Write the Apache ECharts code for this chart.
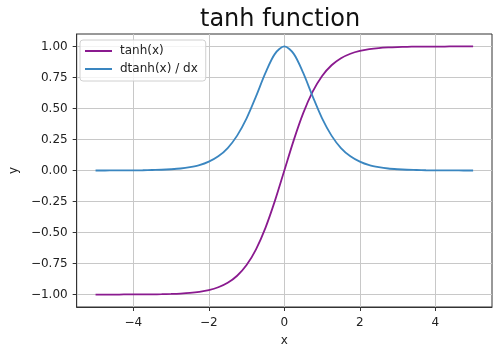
<!DOCTYPE html>
<html>
<head>
<meta charset="utf-8">
<script src="https://cdn.jsdelivr.net/npm/echarts@6/dist/echarts.min.js"></script>
<style>
  html, body { margin: 0; padding: 0; background: #fff; }
  #chart { width: 500px; height: 354px; }
</style>
</head>
<body>
<div id="chart"></div>
<script>
// values, x from -5 to 5 in steps of 0.25
const xs = [
  -5, -4.75, -4.5, -4.25, -4, -3.75, -3.5, -3.25, -3, -2.75, -2.5, -2.25, -2,
  -1.75, -1.5, -1.25, -1, -0.75, -0.5, -0.25, 0, 0.25, 0.5, 0.75, 1, 1.25,
  1.5, 1.75, 2, 2.25, 2.5, 2.75, 3, 3.25, 3.5, 3.75, 4, 4.25, 4.5, 4.75, 5,
];
const tanhVals = [
  -1.0, -1.0, -1.0, -0.999, -0.999, -0.999, -0.998, -0.997, -0.995, -0.992,
  -0.987, -0.978, -0.964, -0.941, -0.905, -0.848, -0.762, -0.635, -0.462,
  -0.245, 0.0, 0.245, 0.462, 0.635, 0.762, 0.848, 0.905, 0.941, 0.964, 0.978,
  0.987, 0.992, 0.995, 0.997, 0.998, 0.999, 0.999, 0.999, 1.0, 1.0, 1.0,
];
const dtanhVals = [
  0.0, 0.0, 0.001, 0.001, 0.001, 0.002, 0.004, 0.006, 0.01, 0.016, 0.027,
  0.043, 0.071, 0.114, 0.181, 0.281, 0.42, 0.597, 0.786, 0.94, 1.0, 0.94,
  0.786, 0.597, 0.42, 0.281, 0.181, 0.114, 0.071, 0.043, 0.027, 0.016, 0.01,
  0.006, 0.004, 0.002, 0.001, 0.001, 0.001, 0.0, 0.0,
];
const xTicks = [-4, -2, 0, 2, 4];
const yTicks = [-1, -0.75, -0.5, -0.25, 0, 0.25, 0.5, 0.75, 1];

const FONT = "DejaVu Sans";
const minus = (s) => s.replace("-", "\u2212");

const chart = echarts.init(document.getElementById("chart"), null, { renderer: "canvas" });

const axisCommon = {
  type: "value",
  axisLine: { show: true, onZero: false, lineStyle: { color: "#333", width: 1 } },
  axisTick: { show: true, length: 4, lineStyle: { color: "#333" } },
  splitLine: { show: true, lineStyle: { color: "#c8c8c8", width: 1 } },
  nameTextStyle: { fontFamily: FONT, fontSize: 12, color: "#222" },
};

chart.setOption({
  animation: false,
  title: {
    text: "tanh function",
    left: 200,
    top: 8,
    padding: 0,
    textStyle: { fontFamily: FONT, fontSize: 24, fontWeight: "normal", color: "#111" },
  },
  grid: {
    left: 74, right: 8, top: 34, bottom: 47,
    show: true, borderColor: "#333", borderWidth: 1, backgroundColor: "transparent",
  },
  legend: {
    orient: "vertical",
    left: 80,
    top: 40,
    padding: [5, 8, 6, 5],
    itemGap: 6,
    itemWidth: 27,
    itemHeight: 2,
    icon: "rect",
    backgroundColor: "rgba(255,255,255,0.8)",
    borderColor: "#d0d0d0",
    borderWidth: 1,
    borderRadius: 3,
    textStyle: { fontFamily: FONT, fontSize: 12, color: "#222", padding: [0, 0, 0, 3] },
    data: ["tanh(x)", "dtanh(x) / dx"],
  },
  xAxis: {
    ...axisCommon,
    min: -5.5,
    max: 5.5,
    name: "x",
    nameLocation: "middle",
    nameGap: 28,
    axisTick: { ...axisCommon.axisTick, customValues: xTicks },
    splitLine: { ...axisCommon.splitLine, customValues: xTicks },
    axisLabel: {
      customValues: xTicks,
      margin: 10,
      fontFamily: FONT, fontSize: 12, color: "#222",
      formatter: (v) => minus(String(v)),
    },
  },
  yAxis: {
    ...axisCommon,
    min: -1.1,
    max: 1.1,
    name: "y",
    nameLocation: "middle",
    nameGap: 54,
    axisTick: { ...axisCommon.axisTick, customValues: yTicks },
    splitLine: { ...axisCommon.splitLine, customValues: yTicks },
    axisLabel: {
      customValues: yTicks,
      margin: 9,
      fontFamily: FONT, fontSize: 12, color: "#222",
      formatter: (v) => minus(v.toFixed(2)),
    },
  },
  series: [
    {
      name: "tanh(x)",
      type: "line",
      data: xs.map((x, i) => [x, tanhVals[i]]),
      showSymbol: false,
      smooth: 0.3,
      color: "#8a1a8f",
      lineStyle: { width: 1.8 },
    },
    {
      name: "dtanh(x) / dx",
      type: "line",
      data: xs.map((x, i) => [x, dtanhVals[i]]),
      showSymbol: false,
      smooth: 0.3,
      color: "#3a86c0",
      lineStyle: { width: 1.8 },
    },
  ],
});
</script>
</body>
</html>
